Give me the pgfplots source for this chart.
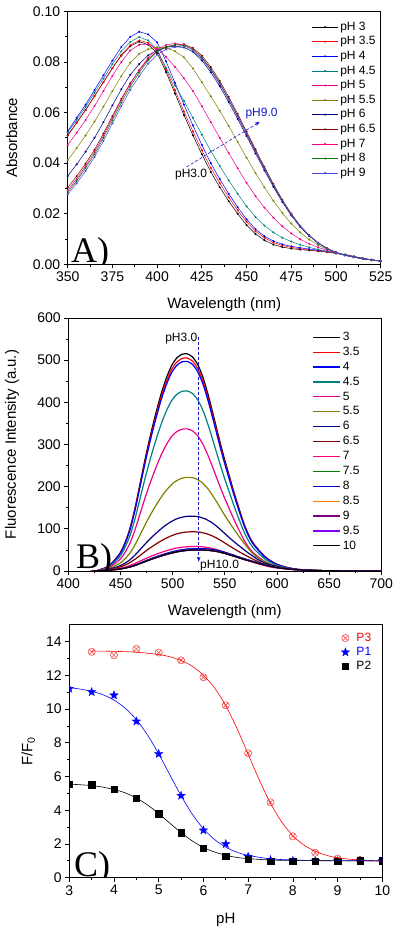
\documentclass[border=0pt]{standalone}
\usepackage{fontspec}
\setmainfont{Liberation Sans}
\newfontfamily\letterfont{Liberation Serif}
\usepackage{pgfplots}
\usepackage{pgfplotstable}
\pgfplotsset{compat=1.18}
\usetikzlibrary{arrows.meta}

\definecolor{cteal}{RGB}{0,128,128}
\definecolor{colive}{RGB}{128,128,0}
\definecolor{cnavy}{RGB}{0,0,128}
\definecolor{cwine}{RGB}{128,0,0}
\definecolor{cpink}{RGB}{255,0,128}
\definecolor{cgreen}{RGB}{0,128,0}
\definecolor{croyal}{RGB}{70,70,230}
\definecolor{corange}{RGB}{255,128,0}
\definecolor{cpurple}{RGB}{128,0,128}
\definecolor{cviolet}{RGB}{128,0,255}
\definecolor{cblueb}{RGB}{0,0,210}
\definecolor{cpale}{RGB}{245,80,80}
\definecolor{cdblue}{RGB}{20,20,200}

\pgfdeclareplotmark{fstar}{%
  \pgfpathmoveto{\pgfpointpolar{90}{\pgfplotmarksize}}%
  \pgfpathlineto{\pgfpointpolar{126}{0.42\pgfplotmarksize}}%
  \pgfpathlineto{\pgfpointpolar{162}{\pgfplotmarksize}}%
  \pgfpathlineto{\pgfpointpolar{198}{0.42\pgfplotmarksize}}%
  \pgfpathlineto{\pgfpointpolar{234}{\pgfplotmarksize}}%
  \pgfpathlineto{\pgfpointpolar{270}{0.42\pgfplotmarksize}}%
  \pgfpathlineto{\pgfpointpolar{306}{\pgfplotmarksize}}%
  \pgfpathlineto{\pgfpointpolar{342}{0.42\pgfplotmarksize}}%
  \pgfpathlineto{\pgfpointpolar{18}{\pgfplotmarksize}}%
  \pgfpathlineto{\pgfpointpolar{54}{0.42\pgfplotmarksize}}%
  \pgfpathclose\pgfusepathqfillstroke}

\pgfplotsset{panel/.style={
  scale only axis, width=313pt, height=253pt,
  axis line style={line width=0.8pt},
  tick align=outside, xtick pos=bottom, ytick pos=left,
  minor x tick num=1, minor y tick num=1,
  major tick length=4pt, minor tick length=2.5pt,
  every tick/.style={black, line width=0.7pt},
  tick label style={font=\fontsize{14}{16}\selectfont},
  label style={font=\fontsize{15}{17}\selectfont},
  /pgf/number format/assume math mode=true,
  scaled ticks=false,
  legend style={draw=none, fill=none, font=\fontsize{12}{13}\selectfont,
     nodes={text height=8.6pt, text depth=2.2pt, inner sep=1.9pt}},
  legend cell align=left,
}}

% ---------- Panel A: absorbance ----------
\pgfplotstableread{
w a30 a35 a40 a45 a50 a55 a60 a65 a70 a80 a90
350 0.0510 0.0508 0.0526 0.0520 0.0471 0.0411 0.0349 0.0303 0.0292 0.0285 0.0276
355 0.0560 0.0559 0.0579 0.0571 0.0520 0.0459 0.0395 0.0348 0.0338 0.0330 0.0320
360 0.0610 0.0609 0.0631 0.0622 0.0570 0.0509 0.0445 0.0398 0.0388 0.0380 0.0369
365 0.0665 0.0665 0.0689 0.0678 0.0626 0.0564 0.0500 0.0453 0.0444 0.0435 0.0424
370 0.0720 0.0720 0.0747 0.0734 0.0685 0.0623 0.0562 0.0517 0.0509 0.0500 0.0488
375 0.0775 0.0776 0.0805 0.0791 0.0745 0.0685 0.0628 0.0586 0.0579 0.0569 0.0557
380 0.0825 0.0828 0.0859 0.0842 0.0800 0.0744 0.0692 0.0654 0.0649 0.0639 0.0625
385 0.0862 0.0866 0.0899 0.0879 0.0845 0.0797 0.0749 0.0716 0.0713 0.0703 0.0690
390 0.0880 0.0885 0.0919 0.0898 0.0868 0.0832 0.0792 0.0767 0.0768 0.0758 0.0744
395 0.0868 0.0875 0.0909 0.0885 0.0870 0.0850 0.0826 0.0811 0.0816 0.0806 0.0793
400 0.0835 0.0844 0.0877 0.0847 0.0853 0.0858 0.0846 0.0841 0.0850 0.0842 0.0829
405 0.0760 0.0771 0.0802 0.0777 0.0820 0.0855 0.0858 0.0857 0.0867 0.0860 0.0849
410 0.0675 0.0688 0.0717 0.0707 0.0780 0.0842 0.0862 0.0867 0.0873 0.0868 0.0859
415 0.0590 0.0604 0.0631 0.0646 0.0735 0.0818 0.0858 0.0870 0.0868 0.0864 0.0857
420 0.0510 0.0525 0.0549 0.0579 0.0685 0.0774 0.0840 0.0855 0.0850 0.0848 0.0842
425 0.0435 0.0451 0.0472 0.0513 0.0625 0.0720 0.0806 0.0825 0.0818 0.0817 0.0813
430 0.0365 0.0381 0.0400 0.0448 0.0562 0.0664 0.0759 0.0780 0.0771 0.0772 0.0768
435 0.0305 0.0321 0.0337 0.0389 0.0500 0.0607 0.0704 0.0725 0.0715 0.0717 0.0714
440 0.0250 0.0265 0.0279 0.0332 0.0440 0.0547 0.0641 0.0662 0.0652 0.0654 0.0652
445 0.0200 0.0214 0.0226 0.0279 0.0380 0.0484 0.0575 0.0595 0.0585 0.0587 0.0586
450 0.0155 0.0168 0.0178 0.0229 0.0322 0.0421 0.0507 0.0525 0.0515 0.0518 0.0517
455 0.0120 0.0131 0.0139 0.0187 0.0270 0.0361 0.0438 0.0455 0.0446 0.0448 0.0448
460 0.0095 0.0105 0.0111 0.0153 0.0224 0.0304 0.0371 0.0385 0.0377 0.0379 0.0379
465 0.0078 0.0086 0.0092 0.0126 0.0184 0.0251 0.0306 0.0318 0.0312 0.0313 0.0313
470 0.0068 0.0074 0.0079 0.0105 0.0150 0.0203 0.0246 0.0255 0.0250 0.0251 0.0251
475 0.0062 0.0067 0.0071 0.0090 0.0122 0.0161 0.0193 0.0200 0.0196 0.0197 0.0197
480 0.0058 0.0061 0.0065 0.0077 0.0099 0.0126 0.0147 0.0152 0.0150 0.0150 0.0150
485 0.0055 0.0057 0.0060 0.0067 0.0081 0.0098 0.0112 0.0115 0.0114 0.0114 0.0113
490 0.0052 0.0054 0.0056 0.0059 0.0067 0.0076 0.0083 0.0085 0.0085 0.0084 0.0084
495 0.0048 0.0049 0.0051 0.0051 0.0055 0.0059 0.0062 0.0063 0.0063 0.0063 0.0062
500 0.0043 0.0044 0.0045 0.0044 0.0045 0.0046 0.0047 0.0047 0.0047 0.0047 0.0046
505 0.0037 0.0037 0.0039 0.0038 0.0037 0.0036 0.0036 0.0036 0.0036 0.0036 0.0035
510 0.0030 0.0030 0.0031 0.0031 0.0030 0.0029 0.0028 0.0028 0.0028 0.0028 0.0028
515 0.0023 0.0023 0.0024 0.0023 0.0023 0.0022 0.0022 0.0022 0.0022 0.0022 0.0022
520 0.0017 0.0017 0.0018 0.0017 0.0017 0.0017 0.0017 0.0017 0.0017 0.0017 0.0017
525 0.0012 0.0012 0.0013 0.0013 0.0012 0.0013 0.0013 0.0014 0.0014 0.0014 0.0014
}\tabA

% ---------- Panel B: fluorescence ----------
\pgfplotstableread{
x b30 b35 b40 b45 b50
429 2.1 2.0 2.0 1.7 1.3
439 11.8 11.6 11.4 9.8 7.8
449 40.2 39.4 38.8 33.3 26.3
454 64.9 63.6 62.6 53.8 42.5
459 99.9 98.0 96.4 82.8 65.4
464 149.9 147.0 144.6 124.3 98.1
469 210.1 206.0 202.8 174.2 137.5
474 269.9 264.6 260.4 223.7 176.6
479 325.0 318.7 313.6 269.4 212.6
484 374.9 367.6 361.8 310.9 245.3
489 420.2 412.1 405.6 348.4 275.0
494 457.8 448.9 441.8 379.6 299.6
499 487.2 477.7 470.2 403.9 318.8
504 505.2 495.4 487.6 418.9 330.6
509 514.0 504.0 496.0 426.1 336.3
514 515 505 497 427 337
519 507.8 497.9 490.0 421.0 332.3
524 489.8 480.3 472.6 406.1 320.5
529 459.9 451.0 443.8 381.3 300.9
534 418.2 410.1 403.6 346.7 273.6
539 369.8 362.6 356.8 306.6 242.0
544 319.8 313.6 308.6 265.2 209.3
549 271.9 266.6 262.4 225.5 177.9
554 228.1 223.7 220.2 189.2 149.3
559 184.9 181.3 178.4 153.3 121.0
564 145.2 142.4 140.2 120.4 95.0
569 108.2 106.1 104.4 89.7 70.8
574 79.8 78.3 77.0 66.2 52.2
579 60.3 59.1 58.1 50.0 39.4
589 33.0 32.3 31.8 27.3 21.6
599 17.0 16.7 16.4 14.1 11.1
609 8.8 8.6 8.4 7.3 5.7
619 4.1 4.0 4.0 3.4 2.7
634 1.5 1.5 1.5 1.3 1.0
650 0 0 0 0 0
700 0 0 0 0 0
}\tabBa

\pgfplotstableread{
x y
427.8 0.9
438.3 5.1
448.8 17.3
454.0 28.0
459.3 43.1
464.5 64.6
469.8 90.6
475.0 116.3
480.3 140.1
485.5 161.6
490.8 181.2
496.0 197.4
501.3 210.0
506.5 217.8
511.8 221.6
517.0 222
522.3 218.9
527.5 211.1
532.8 198.2
538.0 180.3
543.3 159.4
548.5 137.9
553.8 117.2
559.0 98.3
564.3 79.7
569.5 62.6
574.8 46.6
580.0 34.4
585.3 26.0
595.8 14.2
606.3 7.3
616.8 3.8
627.3 1.8
643.0 0.7
658.8 0
700 0
}\tabBb

\pgfplotstableread{
x y
424.8 0.5
436.0 3.0
447.2 10.1
452.8 16.4
458.4 25.2
464.0 37.8
469.6 53.0
475.2 68.1
480.8 82.0
486.4 94.6
492.0 106.1
497.6 115.6
503.2 123.0
508.8 127.5
514.4 129.7
520.0 130
525.6 128.2
531.2 123.6
536.8 116.1
542.4 105.6
548.0 93.3
553.6 80.7
559.2 68.6
564.8 57.6
570.4 46.7
576.0 36.7
581.6 27.3
587.2 20.2
592.8 15.2
604.0 8.3
615.2 4.3
626.4 2.2
637.6 1.0
654.4 0.4
671.2 0
700 0
}\tabBc

\pgfplotstableread{
x y
423.3 0.4
434.8 2.1
446.3 7.3
452.0 11.7
457.8 18.0
463.5 27.1
469.3 37.9
475.0 48.7
480.8 58.7
486.5 67.7
492.3 75.9
498.0 82.7
503.8 88.0
509.5 91.2
515.3 92.8
521.0 93
526.8 91.7
532.5 88.4
538.3 83.0
544.0 75.5
549.8 66.8
555.5 57.8
561.3 49.1
567.0 41.2
572.8 33.4
578.5 26.2
584.3 19.5
590.0 14.4
595.8 10.9
607.3 6.0
618.8 3.1
630.3 1.6
641.8 0.7
659.0 0.3
676.3 0
700 0
}\tabBd

\pgfplotstableread{
x y
421 0.2
433 1.3
445 4.5
451 7.3
457 11.3
463 16.9
469 23.7
475 30.4
481 36.6
487 42.2
493 47.3
499 51.6
505 54.9
511 56.9
517 57.9
523 58
529 57.2
535 55.2
541 51.8
547 47.1
553 41.6
559 36.0
565 30.6
571 25.7
577 20.8
583 16.4
589 12.2
595 9.0
601 6.8
613 3.7
625 1.9
637 1.0
649 0.5
667 0.2
685 0
700 0
}\tabBe

\pgfplotstableread{
x ya yb
422.5 0.2 0.2
434.8 1.2 1.2
447.1 4.1 3.9
453.2 6.7 6.3
459.4 10.3 9.7
465.5 15.4 14.6
471.7 21.6 20.4
477.8 27.8 26.2
484.0 33.4 31.6
490.1 38.6 36.4
496.3 43.2 40.8
502.4 47.1 44.5
508.6 50.1 47.3
514.7 52.0 49.1
520.9 52.9 49.9
527.0 53 50
533.2 52.3 49.3
539.3 50.4 47.6
545.5 47.3 44.7
551.6 43.0 40.6
557.8 38.1 35.9
563.9 32.9 31.1
570.1 28.0 26.4
576.2 23.5 22.2
582.4 19.0 18.0
588.5 14.9 14.1
594.7 11.1 10.5
600.8 8.2 7.8
607.0 6.2 5.9
619.3 3.4 3.2
631.6 1.7 1.7
643.9 0.9 0.9
656.2 0.4 0.4
674.6 0.2 0.2
693.1 0 0
700 0 0
}\tabBf

% ---------- Panel C ----------
\pgfplotstableread{
x y
3.5 13.39
4.0 13.19
4.5 13.57
5.0 13.35
5.5 12.89
6.0 11.88
6.5 10.22
7.0 7.38
7.5 4.47
8.0 2.45
8.5 1.48
9.0 1.13
9.5 1.05
}\tabPthree

\pgfplotstableread{
x y
3.0 11.21
3.5 11.01
4.0 10.82
4.5 9.27
5.0 7.34
5.5 4.86
6.0 2.81
6.5 2.00
7.0 1.25
7.5 1.05
8.0 1.00
8.5 0.98
9.0 0.98
9.5 1.00
10.0 1.00
}\tabPone

\pgfplotstableread{
x y
3.0 5.54
3.5 5.52
4.0 5.24
4.5 4.73
5.0 3.80
5.5 2.67
6.0 1.74
6.5 1.27
7.0 1.09
7.5 0.99
8.0 0.99
8.5 0.97
9.0 0.99
9.5 1.01
10.0 1.01
}\tabPtwo

\pgfplotstableread{
x y
3.5 13.44
4.0 13.42
4.5 13.37
5.0 13.23
5.25 13.10
5.5 12.88
5.75 12.54
6.0 12.01
6.25 11.25
6.5 10.19
6.75 8.85
7.0 7.32
7.25 5.79
7.5 4.41
7.75 3.31
8.0 2.49
8.25 1.93
8.5 1.57
8.75 1.33
9.0 1.18
9.5 1.04
10.0 0.98
}\fitPthree

\pgfplotstableread{
x y
3.0 11.27
3.25 11.18
3.5 11.05
3.75 10.85
4.0 10.53
4.25 10.05
4.5 9.37
4.75 8.46
5.0 7.34
5.25 6.09
5.5 4.86
5.75 3.77
6.0 2.90
6.25 2.26
6.5 1.81
6.75 1.51
7.0 1.32
7.5 1.12
8.0 1.05
8.5 1.02
9.0 1.01
10.0 1.00
}\fitPone

\pgfplotstableread{
x y
3.0 5.55
3.25 5.51
3.5 5.46
3.75 5.37
4.0 5.23
4.25 5.03
4.5 4.72
4.75 4.31
5.0 3.80
5.25 3.23
5.5 2.67
5.75 2.18
6.0 1.79
6.25 1.52
6.5 1.33
6.75 1.20
7.0 1.13
7.5 1.05
8.0 1.02
9.0 1.00
10.0 1.00
}\fitPtwo

\begin{document}
\begin{tikzpicture}
\useasboundingbox (0pt,0pt) rectangle (400pt,932pt);

% ===== A =====
\begin{axis}[panel, at={(67.7pt,667.7pt)}, anchor=south west,
  xmin=350, xmax=525, ymin=0, ymax=0.1,
  xtick={350,375,400,425,450,475,500,525},
  ytick={0,0.02,0.04,0.06,0.08,0.1},
  yticklabel style={/pgf/number format/.cd, fixed, fixed zerofill, precision=2},
  xlabel={Wavelength (nm)}, ylabel={Absorbance},
  xlabel style={at={(axis description cs:0.5,-0.161)}, anchor=center},
  ylabel style={at={(axis description cs:-0.179,0.5)}, anchor=center},
  legend style={at={(0.77,0.975)}, anchor=north west},
  legend image code/.code={\draw[#1, mark repeat=2, mark phase=2] plot coordinates {(0pt,0pt) (13pt,0pt) (26pt,0pt)};},
  every axis plot/.append style={line width=0.5pt, mark=*, mark size=0.75pt},
]
\addplot[black, mark options={fill=black}] table[x=w, y=a30] {\tabA}; \addlegendentry{pH 3}
\addplot[red, mark options={fill=red}] table[x=w, y=a35] {\tabA}; \addlegendentry{pH 3.5}
\addplot[blue, mark options={fill=blue}] table[x=w, y=a40] {\tabA}; \addlegendentry{pH 4}
\addplot[cteal, mark options={fill=cteal}] table[x=w, y=a45] {\tabA}; \addlegendentry{pH 4.5}
\addplot[magenta, mark options={fill=magenta}] table[x=w, y=a50] {\tabA}; \addlegendentry{pH 5}
\addplot[colive, mark options={fill=colive}] table[x=w, y=a55] {\tabA}; \addlegendentry{pH 5.5}
\addplot[cnavy, mark options={fill=cnavy}] table[x=w, y=a60] {\tabA}; \addlegendentry{pH 6}
\addplot[cwine, mark options={fill=cwine}] table[x=w, y=a65] {\tabA}; \addlegendentry{pH 6.5}
\addplot[cpink, mark options={fill=cpink}] table[x=w, y=a70] {\tabA}; \addlegendentry{pH 7}
\addplot[cgreen, mark options={fill=cgreen}] table[x=w, y=a80] {\tabA}; \addlegendentry{pH 8}
\addplot[croyal, mark options={fill=croyal}] table[x=w, y=a90] {\tabA}; \addlegendentry{pH 9}
\draw[cdblue, densely dashed, line width=0.6pt, -{Stealth[length=5pt]}] (axis cs:416.5,0.0385) -- (axis cs:457.4,0.0563);
\node[font=\fontsize{12}{13}\selectfont, black] at (axis cs:419,0.0353) {pH3.0};
\node[font=\fontsize{12}{13}\selectfont, cdblue] at (axis cs:458.4,0.0596) {pH9.0};
\node[font=\letterfont\fontsize{36}{38}\selectfont, anchor=base west, inner sep=0pt] at (axis cs:351.8,0.0007) {A)};
\end{axis}

% ===== B =====
\begin{axis}[panel, at={(68.3pt,361pt)}, anchor=south west,
  xmin=400, xmax=700, ymin=0, ymax=600,
  xtick={400,450,...,700}, ytick={0,100,...,600},
  xlabel={Wavelength (nm)}, ylabel={Fluorescence Intensity (a.u.)},
  xlabel style={at={(axis description cs:0.5,-0.162)}, anchor=center},
  ylabel style={at={(axis description cs:-0.180,0.5)}, anchor=center},
  legend style={at={(0.77,0.962)}, anchor=north west, nodes={text height=8.6pt, text depth=2.2pt, inner sep=2.05pt}},
  legend image code/.code={\draw[#1] (0pt,0pt) -- (27pt,0pt);},
  every axis plot/.append style={line width=1.2pt, smooth, tension=0.4},
]
\addplot[black] table[x=x, y=b30] {\tabBa}; \addlegendentry{3}
\addplot[red] table[x=x, y=b35] {\tabBa}; \addlegendentry{3.5}
\addplot[blue] table[x=x, y=b40] {\tabBa}; \addlegendentry{4}
\addplot[cteal] table[x=x, y=b45] {\tabBa}; \addlegendentry{4.5}
\addplot[magenta] table[x=x, y=b50] {\tabBa}; \addlegendentry{5}
\addplot[colive] table[x=x, y=y] {\tabBb}; \addlegendentry{5.5}
\addplot[cnavy] table[x=x, y=y] {\tabBc}; \addlegendentry{6}
\addplot[cwine] table[x=x, y=y] {\tabBd}; \addlegendentry{6.5}
\addplot[cpink] table[x=x, y=y] {\tabBe}; \addlegendentry{7}
\addplot[cgreen] table[x=x, y=ya] {\tabBf}; \addlegendentry{7.5}
\addplot[cblueb] table[x=x, y=ya] {\tabBf}; \addlegendentry{8}
\addplot[corange] table[x=x, y=yb] {\tabBf}; \addlegendentry{8.5}
\addplot[cpurple] table[x=x, y=yb] {\tabBf}; \addlegendentry{9}
\addplot[cviolet] table[x=x, y=yb] {\tabBf}; \addlegendentry{9.5}
\addplot[black] table[x=x, y=yb] {\tabBf}; \addlegendentry{10}
\draw[cdblue, densely dashed, line width=0.6pt, -{Stealth[length=5pt]}] (axis cs:525,556) -- (axis cs:525,22);
\node[font=\fontsize{12}{13}\selectfont, black] at (axis cs:508.3,551) {pH3.0};
\node[font=\fontsize{12}{13}\selectfont, black] at (axis cs:545,14) {pH10.0};
\node[font=\letterfont\fontsize{36}{38}\selectfont, anchor=base west, inner sep=0pt] at (axis cs:407.4,7) {B)};
\end{axis}

% ===== C =====
\begin{axis}[panel, at={(69.3pt,54.3pt)}, anchor=south west,
  xmin=3, xmax=10, ymin=0, ymax=15,
  xtick={3,4,...,10}, ytick={0,2,...,14},
  xlabel={pH}, ylabel={F/F\textsubscript{0}},
  xlabel style={at={(axis description cs:0.5,-0.167)}, anchor=center},
  ylabel style={at={(axis description cs:-0.131,0.5)}, anchor=center},
  legend style={at={(0.858,0.984)}, anchor=north west, nodes={text height=8.6pt, text depth=2.2pt, inner sep=1.7pt}},
  clip marker paths=true,
]
\addplot[only marks, mark=otimes, mark size=3.6pt, cpale, mark options={line width=0.6pt}] table[x=x, y=y] {\tabPthree}; \addlegendentry{\hspace{5pt}\textcolor{red}{P3}}
\addplot[only marks, mark=fstar, mark size=4.6pt, blue, mark options={fill=blue, line width=0.2pt}] table[x=x, y=y] {\tabPone}; \addlegendentry{\hspace{5pt}\textcolor{blue}{P1}}
\addplot[only marks, mark=square*, mark size=3.2pt, black] table[x=x, y=y] {\tabPtwo}; \addlegendentry{\hspace{5pt}P2}
\addplot[red, line width=0.6pt, smooth, forget plot] table[x=x, y=y] {\fitPthree};
\addplot[blue, line width=0.6pt, smooth, forget plot] table[x=x, y=y] {\fitPone};
\addplot[black, line width=0.6pt, smooth, forget plot] table[x=x, y=y] {\fitPtwo};
\node[font=\letterfont\fontsize{36}{38}\selectfont, anchor=base west, inner sep=0pt] at (axis cs:3.105,0.07) {C)};
\end{axis}
\end{tikzpicture}
\end{document}
